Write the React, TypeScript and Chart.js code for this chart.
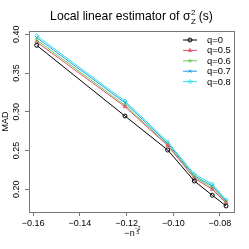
import React, { useEffect, useRef } from "react";
import { Chart, registerables } from "chart.js";

Chart.register(...registerables);

const X_VALUES = [-0.1585, -0.1207, -0.1024, -0.091, -0.0833, -0.0774];
const SERIES_LABELS = ["q=0", "q=0.5", "q=0.6", "q=0.7", "q=0.8"];
const Q0 = [0.3858, 0.2946, 0.2507, 0.2107, 0.1923, 0.1785];
const Q05 = [0.3901, 0.3066, 0.2563, 0.2142, 0.2, 0.1823];
const Q06 = [0.3926, 0.3086, 0.2576, 0.2159, 0.2021, 0.1836];
const Q07 = [0.3957, 0.3117, 0.2594, 0.2175, 0.2043, 0.1849];
const Q08 = [0.3982, 0.3139, 0.2614, 0.2197, 0.2068, 0.1862];
const X_TICKS = [-0.16, -0.14, -0.12, -0.1, -0.08];
const Y_TICKS = [0.2, 0.25, 0.3, 0.35, 0.4];

const COLORS = ["#000000", "#DF536B", "#61D04F", "#2297E6", "#28E2E5"];
const STYLES = ["circle", "triangle", "cross", "crossRot", "rectRot"];
const FONT = "'Liberation Sans', Arial, sans-serif";

const fmt = (v: number) => {
  const s = Math.abs(v).toFixed(2);
  return v < 0 ? "\u2212" + s : s;
};

const decoPlugin = {
  id: "deco",
  afterDraw(chart: any) {
    const ctx = chart.ctx;
    const a = chart.chartArea;
    ctx.save();
    // box
    ctx.strokeStyle = "#777";
    ctx.lineWidth = 1;
    ctx.strokeRect(Math.round(a.left) + 0.5, Math.round(a.top) + 0.5, Math.round(a.right - a.left), Math.round(a.bottom - a.top));

    ctx.fillStyle = "#000";
    // title
    const cx = (a.left + a.right) / 2;
    const main = "Local linear estimator of \u03c3";
    const tail = " (s)";
    ctx.font = `12.2px ${FONT}`;
    const wMain = ctx.measureText(main).width;
    const wTail = ctx.measureText(tail).width;
    ctx.font = `8px ${FONT}`;
    const wScript = Math.max(ctx.measureText("2").width, ctx.measureText("Z").width);
    const total = wMain + wScript + wTail;
    const x0 = cx - total / 2;
    ctx.textAlign = "left";
    ctx.textBaseline = "alphabetic";
    ctx.font = `12.2px ${FONT}`;
    ctx.fillText(main, x0, 20);
    ctx.font = `8px ${FONT}`;
    ctx.fillText("2", x0 + wMain + 0.5, 15);
    ctx.fillText("Z", x0 + wMain + 0.5, 23.5);
    ctx.font = `12.2px ${FONT}`;
    ctx.fillText(tail, x0 + wMain + wScript, 20);

    // y label
    ctx.save();
    ctx.translate(8, (a.top + a.bottom) / 2);
    ctx.rotate(-Math.PI / 2);
    ctx.font = `9px ${FONT}`;
    ctx.textAlign = "center";
    ctx.fillText("MAD", 0, 0);
    ctx.restore();

    // x label: −n^{-2/5}
    ctx.font = `9px ${FONT}`;
    const nTxt = "\u2212n";
    const wn = ctx.measureText(nTxt).width;
    const xl = cx - 2 - wn / 2;
    ctx.textAlign = "left";
    ctx.fillText(nTxt, xl, 235.5);
    ctx.font = `5px ${FONT}`;
    ctx.fillText("\u22122", xl + wn + 0.3, 229.5);
    ctx.fillText("5", xl + wn + 1.8, 233.5);

    // legend
    const lx0 = 183, lx1 = 197, tx = 207;
    chart.data.datasets.forEach((ds: any, i: number) => {
      const y = 40 + i * 10.4;
      ctx.strokeStyle = ds.borderColor;
      ctx.lineWidth = 1;
      ctx.beginPath();
      ctx.moveTo(lx0, y);
      ctx.lineTo(lx1, y);
      ctx.stroke();
      const el = chart.getDatasetMeta(i).data[0];
      if (el) {
        const ox = el.x, oy = el.y;
        el.x = (lx0 + lx1) / 2;
        el.y = y;
        el.draw(ctx);
        el.x = ox;
        el.y = oy;
      }
      ctx.fillStyle = "#000";
      ctx.font = `9.4px ${FONT}`;
      ctx.textAlign = "left";
      ctx.textBaseline = "middle";
      ctx.fillText(ds.label, tx, y + 0.5);
    });
    ctx.restore();
  },
};

export default function App() {
  const ref = useRef<HTMLCanvasElement>(null);
  useEffect(() => {
    const prev = document.body.style.margin;
    document.body.style.margin = "0";
    const datasets = [Q0, Q05, Q06, Q07, Q08].map((vals, i) => ({
      label: SERIES_LABELS[i],
      data: vals.map((v, j) => ({ x: X_VALUES[j], y: v })),
      borderColor: COLORS[i],
      backgroundColor: "rgba(0,0,0,0)",
      pointBackgroundColor: "rgba(0,0,0,0)",
      pointBorderColor: COLORS[i],
      pointStyle: STYLES[i],
      pointRadius: 2,
      pointBorderWidth: 1,
      borderWidth: 1,
      tension: 0,
    }));
    const chart = new Chart(ref.current!, {
      type: "line",
      data: { datasets },
      options: {
        responsive: false,
        animation: false,
        events: [],
        layout: { padding: { top: 31, right: 15, left: 0, bottom: 0 } },
        plugins: { legend: { display: false }, tooltip: { enabled: false }, title: { display: false } },
        scales: {
          x: {
            type: "linear",
            min: -0.1618,
            max: -0.074,
            afterBuildTicks: (s: any) => {
              s.ticks = X_TICKS.map((v) => ({ value: v }));
            },
            afterFit: (s: any) => {
              s.height = 37;
            },
            grid: { display: true, drawOnChartArea: false, drawTicks: true, tickLength: 4, color: "#777" },
            border: { display: false },
            ticks: {
              font: { family: FONT, size: 9 },
              color: "#000",
              padding: 2,
              maxRotation: 0,
              minRotation: 0,
              autoSkip: false,
              callback: (v: any) => fmt(Number(v)),
            },
          },
          y: {
            type: "linear",
            min: 0.1707,
            max: 0.4043,
            afterBuildTicks: (s: any) => {
              s.ticks = Y_TICKS.map((v) => ({ value: v }));
            },
            afterFit: (s: any) => {
              s.width = 29;
            },
            grid: { display: true, drawOnChartArea: false, drawTicks: true, tickLength: 4, color: "#777" },
            border: { display: false },
            ticks: {
              font: { family: FONT, size: 9 },
              color: "#000",
              padding: 0,
              minRotation: 90,
              maxRotation: 90,
              crossAlign: "center",
              autoSkip: false,
              callback: (v: any) => fmt(Number(v)),
            },
          },
        },
      } as any,
      plugins: [decoPlugin],
    });
    return () => {
      chart.destroy();
      document.body.style.margin = prev;
    };
  }, []);
  return (
    <div style={{ position: "absolute", left: 0, top: 0, width: 249, height: 249, background: "#fff" }}>
      <canvas ref={ref} width={249} height={249} style={{ display: "block", width: 249, height: 249 }} />
    </div>
  );
}
